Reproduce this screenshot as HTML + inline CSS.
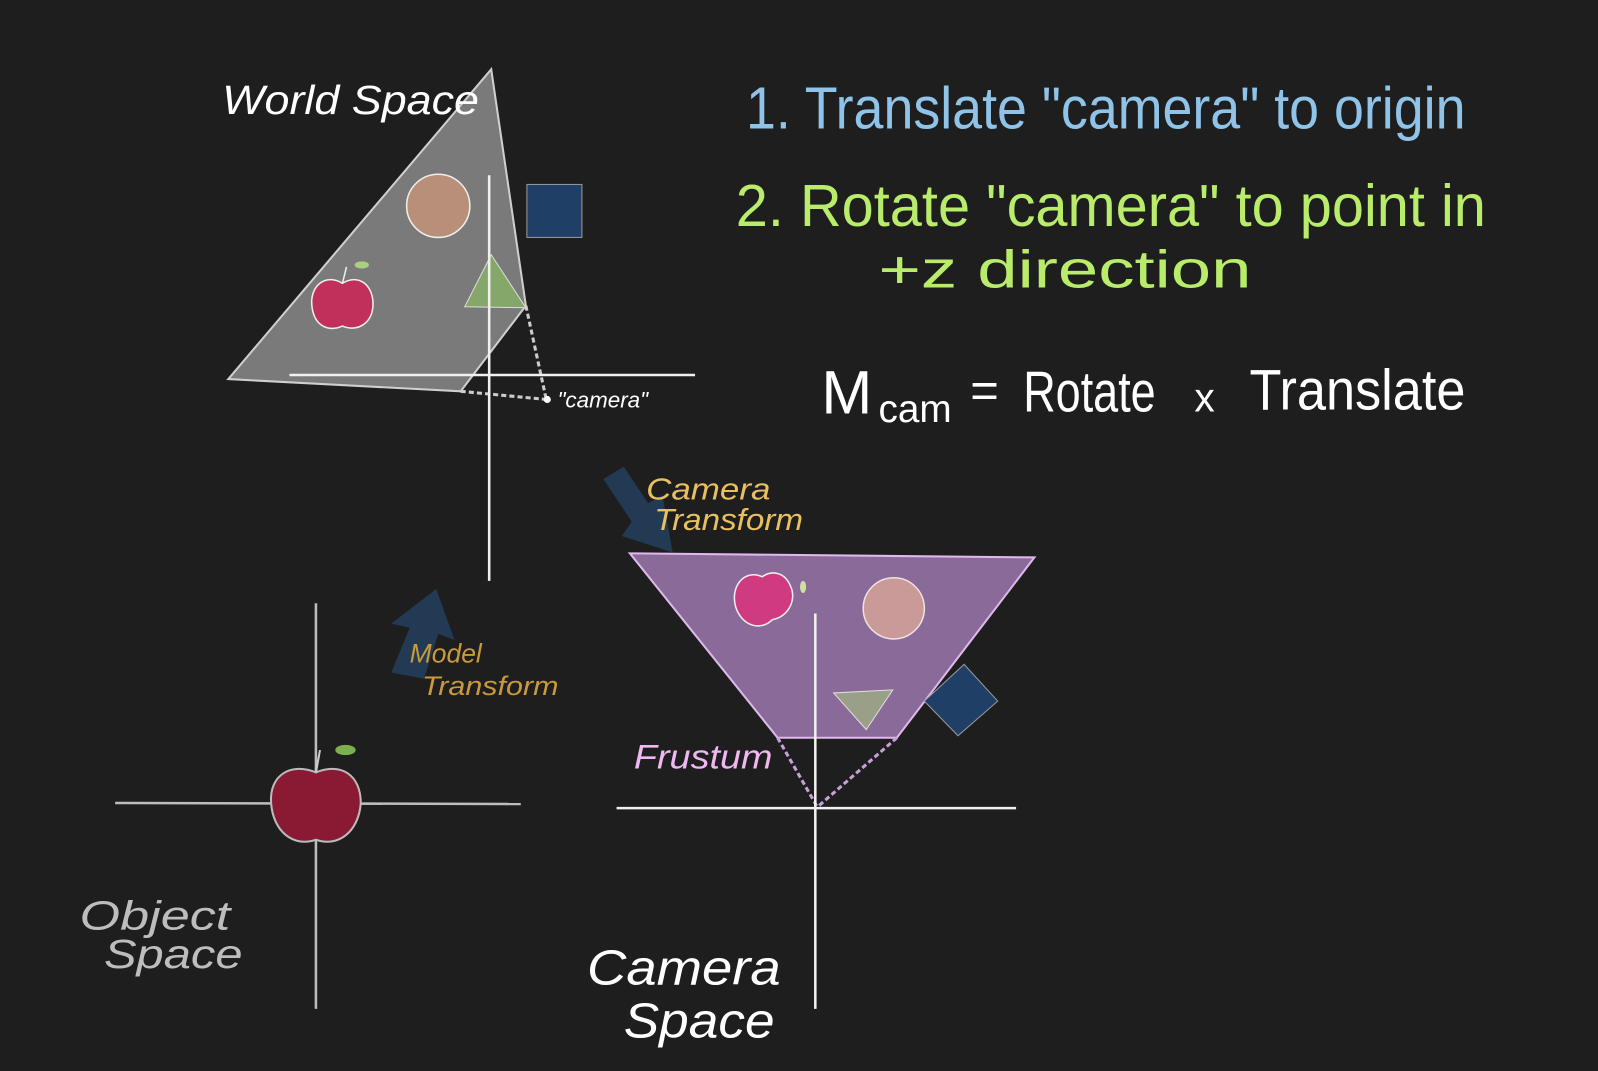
<!DOCTYPE html>
<html><head><meta charset="utf-8"><style>
html,body{margin:0;padding:0;background:#1e1e1e;}
svg{display:block}
text{font-family:"Liberation Sans",sans-serif;}
</style></head><body>
<svg width="1598" height="1071" viewBox="0 0 1568 1051" preserveAspectRatio="none" xmlns="http://www.w3.org/2000/svg">
<rect width="1568" height="1051" fill="#1e1e1e"/>
<polygon points="482,68 224,372 452,384 516,300" fill="#7a7a7a" stroke="#cfcfcf" stroke-width="2"/>
<line x1="516" y1="300" x2="536" y2="392" stroke="#ccc" stroke-width="3" stroke-dasharray="5,3"/>
<line x1="452" y1="384" x2="536" y2="392" stroke="#ccc" stroke-width="3" stroke-dasharray="5,3"/>
<circle cx="537" cy="392" r="3.5" fill="#fff"/>
<circle cx="430" cy="202" r="31" fill="#b8907a" stroke="#eee" stroke-width="1.5"/>
<rect x="517" y="181" width="54" height="52" fill="#1f3f66" stroke="#999"/>
<polygon points="482,250 516,302 456,301" fill="#85a86a" stroke="#ddd"/>
<path d="M336,278 C320,268 304,280 306,300 C308,320 322,326 336,320 C350,326 366,318 366,298 C366,280 352,268 336,278Z" fill="#c0305a" stroke="#eee" stroke-width="1.5"/>
<line x1="336" y1="278" x2="340" y2="262" stroke="#eee" stroke-width="1.5"/>
<ellipse cx="355" cy="260" rx="7" ry="3.5" fill="#a8d080"/>
<line x1="480" y1="172" x2="480" y2="570" stroke="#f0f0f0" stroke-width="2.5"/>
<line x1="284" y1="368" x2="682" y2="368" stroke="#f0f0f0" stroke-width="2.5"/>
<text x="218" y="112" fill="#fff" font-size="40" font-style="italic" textLength="252" lengthAdjust="spacingAndGlyphs">World Space</text>
<text x="547" y="400" fill="#fff" font-size="22" font-style="italic">"camera"</text>
<text x="732" y="126" fill="#8fc3e8" font-size="58" textLength="706" lengthAdjust="spacingAndGlyphs">1. Translate "camera" to origin</text>
<text x="722" y="222" fill="#b8ec6a" font-size="58" textLength="736" lengthAdjust="spacingAndGlyphs">2. Rotate "camera" to point in</text>
<text x="862" y="282" fill="#b8ec6a" font-size="52" textLength="366" lengthAdjust="spacingAndGlyphs">+z  direction</text>
<text x="806" y="406" fill="#fff" font-size="60">M</text>
<text x="862" y="414" fill="#fff" font-size="38">cam</text>
<text x="952" y="400" fill="#fff" font-size="48">=</text>
<text x="1004" y="404" fill="#fff" font-size="56" textLength="130" lengthAdjust="spacingAndGlyphs">Rotate</text>
<text x="1172" y="404" fill="#fff" font-size="40">x</text>
<text x="1226" y="402" fill="#fff" font-size="56" textLength="212" lengthAdjust="spacingAndGlyphs">Translate</text>
<line x1="310" y1="592" x2="310" y2="990" stroke="#bdbdbd" stroke-width="2.5"/>
<line x1="113" y1="788" x2="511" y2="789" stroke="#bdbdbd" stroke-width="2.5"/>
<path d="M310,758 C286,748 264,760 266,788 C268,816 288,832 310,824 C332,832 352,816 354,788 C354,760 334,748 310,758Z" fill="#8a1a33" stroke="#bbb" stroke-width="2"/>
<line x1="310" y1="758" x2="314" y2="736" stroke="#ccc" stroke-width="2"/>
<ellipse cx="339" cy="736" rx="10" ry="5" fill="#7ab050"/>
<text x="78" y="912" fill="#bdbdbd" font-size="40" font-style="italic" textLength="148" lengthAdjust="spacingAndGlyphs">Object</text>
<text x="102" y="950" fill="#bdbdbd" font-size="40" font-style="italic" textLength="136" lengthAdjust="spacingAndGlyphs">Space</text>
<polygon points="428,578 384,612 402,616 384,660 416,666 430,622 446,628" fill="#233a55"/>
<text x="402" y="650" fill="#c99a3c" font-size="26" font-style="italic">Model</text>
<text x="414" y="682" fill="#c99a3c" font-size="26" font-style="italic" textLength="134" lengthAdjust="spacingAndGlyphs">Transform</text>
<polygon points="592,470 612,458 636,494 650,486 660,542 610,526 620,512" fill="#233a55"/>
<text x="634" y="490" fill="#e8c060" font-size="30" font-style="italic" textLength="122" lengthAdjust="spacingAndGlyphs">Camera</text>
<text x="642" y="520" fill="#e8c060" font-size="30" font-style="italic" textLength="146" lengthAdjust="spacingAndGlyphs">Transform</text>
<polygon points="618,543 1015,547 880,724 763,724" fill="#8a6a98" stroke="#e0b8ee" stroke-width="2"/>
<line x1="763" y1="724" x2="802" y2="792" stroke="#c8a0d8" stroke-width="3" stroke-dasharray="5,3"/>
<line x1="880" y1="724" x2="802" y2="792" stroke="#c8a0d8" stroke-width="3" stroke-dasharray="5,3"/>
<path d="M748,566 C730,558 716,576 722,596 C728,614 746,620 758,608 C772,606 782,590 776,576 C770,560 756,560 748,566Z" fill="#d03a80" stroke="#eee" stroke-width="1.5"/>
<ellipse cx="788" cy="576" rx="3" ry="6" fill="#cde0a0"/>
<circle cx="877" cy="597" r="30" fill="#c99a98" stroke="#f0e0e0" stroke-width="1.5"/>
<polygon points="818,680 876,677 850,716" fill="#9aa088" stroke="#ddd"/>
<polygon points="907,688 946,652 979,688 940,722" fill="#1f3f66" stroke="#999"/>
<line x1="800" y1="602" x2="800" y2="990" stroke="#f0f0f0" stroke-width="2.5"/>
<line x1="605" y1="793" x2="997" y2="793" stroke="#f0f0f0" stroke-width="2.5"/>
<text x="622" y="754" fill="#f0b8f0" font-size="34" font-style="italic" textLength="136" lengthAdjust="spacingAndGlyphs">Frustum</text>
<text x="576" y="966" fill="#fff" font-size="48" font-style="italic" textLength="190" lengthAdjust="spacingAndGlyphs">Camera</text>
<text x="612" y="1018" fill="#fff" font-size="48" font-style="italic" textLength="148" lengthAdjust="spacingAndGlyphs">Space</text>
</svg>
</body></html>
